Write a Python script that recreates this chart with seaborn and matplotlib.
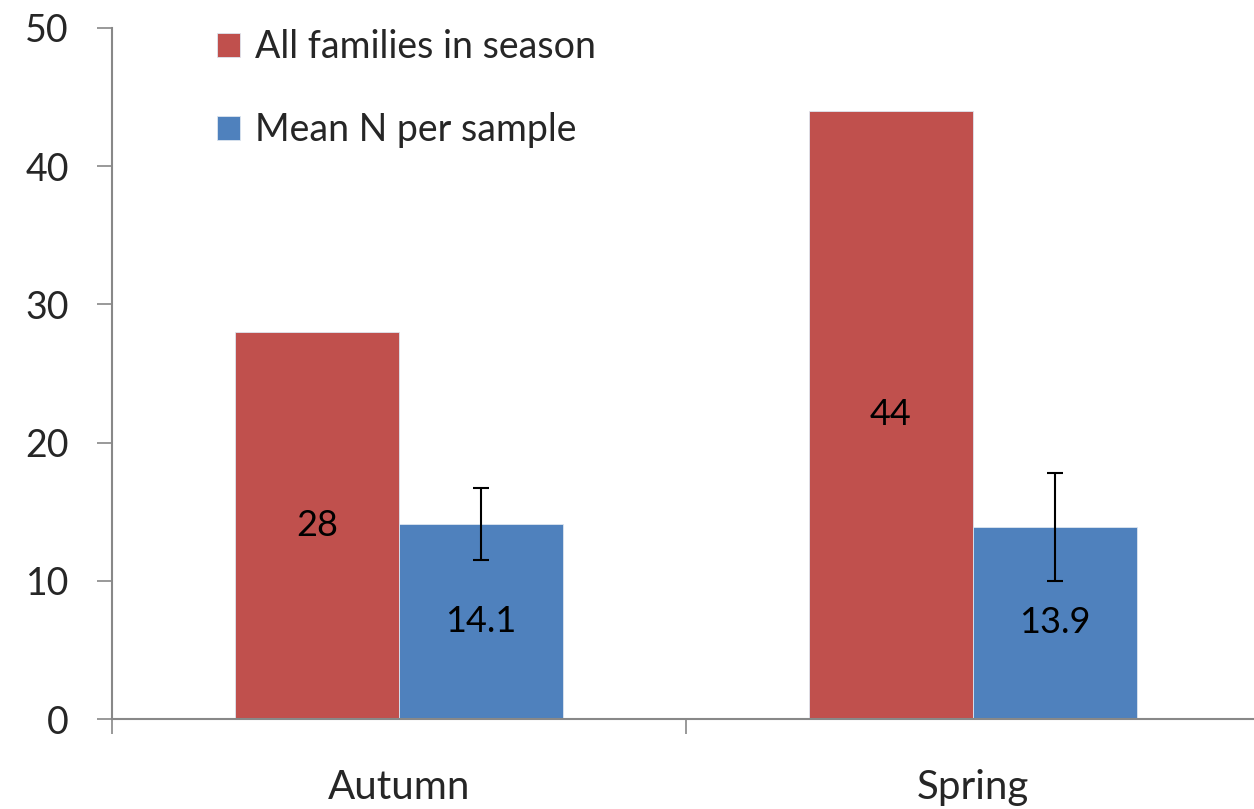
import numpy as np
import pandas as pd
import matplotlib
matplotlib.use("Agg")
import matplotlib.pyplot as plt
import seaborn as sns

# values
seasons = ["Autumn", "Spring"]
series = ["All families in season", "Mean N per sample"]
all_families = [28, 44]
mean_n = [14.1, 13.9]
mean_n_err = [2.6, 3.9]
colors = ["#C0504D", "#4F81BD"]

df = pd.DataFrame({
    "season": seasons * 2,
    "series": [series[0]] * 2 + [series[1]] * 2,
    "value": all_families + mean_n,
})

sns.set_style("white")
plt.rcParams["font.family"] = ["Lato", "DejaVu Sans"]

fig = plt.figure(figsize=(12.54, 8.09), dpi=100)
ax = fig.add_axes([112 / 1254, 1 - 719 / 809, 1148 / 1254, 691 / 809])

sns.barplot(data=df, x="season", y="value", hue="series", palette=colors,
            width=0.572, gap=0, saturation=1, errorbar=None, ax=ax,
            linewidth=0.6, edgecolor="#dde6f0")

# error bars on the blue bars
blue_bars = ax.containers[1]
xs = [p.get_x() + p.get_width() / 2 for p in blue_bars]
ax.errorbar(xs, mean_n, yerr=mean_n_err, fmt="none", ecolor="black",
            elinewidth=1.5, capsize=6, capthick=1.5, zorder=5)

# value labels in the middle of each bar
for cont, vals in zip(ax.containers, [all_families, mean_n]):
    ax.bar_label(cont, labels=[f"{v:g}" for v in vals], label_type="center",
                 fontsize=26, color="black")

ax.set_ylim(0, 50)
ax.set_xlim(-0.5, 1.5)
ax.set_yticks([0, 10, 20, 30, 40, 50])
ax.set_xlabel("")
ax.set_ylabel("")

ax.tick_params(axis="y", which="major", length=11, width=1.2, color="#888888",
               labelsize=27, pad=20, left=True, direction="out")
ax.tick_params(axis="x", which="major", length=0, labelsize=29, pad=36)
ax.set_xticks([-0.5, 0.5, 1.5], minor=True)
ax.tick_params(axis="x", which="minor", length=11, width=1.2, color="#888888",
               bottom=True, direction="out")

for side in ["top", "right"]:
    ax.spines[side].set_visible(False)
for side in ["left", "bottom"]:
    ax.spines[side].set_color("#888888")
    ax.spines[side].set_linewidth(1.5)

leg = ax.legend(loc="upper left", bbox_to_anchor=(0.078, 1.02), frameon=False,
                fontsize=27, handlelength=0.62, handleheight=0.62,
                handletextpad=0.4, labelspacing=1.25, borderaxespad=0)

fig.savefig("out.png", dpi=100)
